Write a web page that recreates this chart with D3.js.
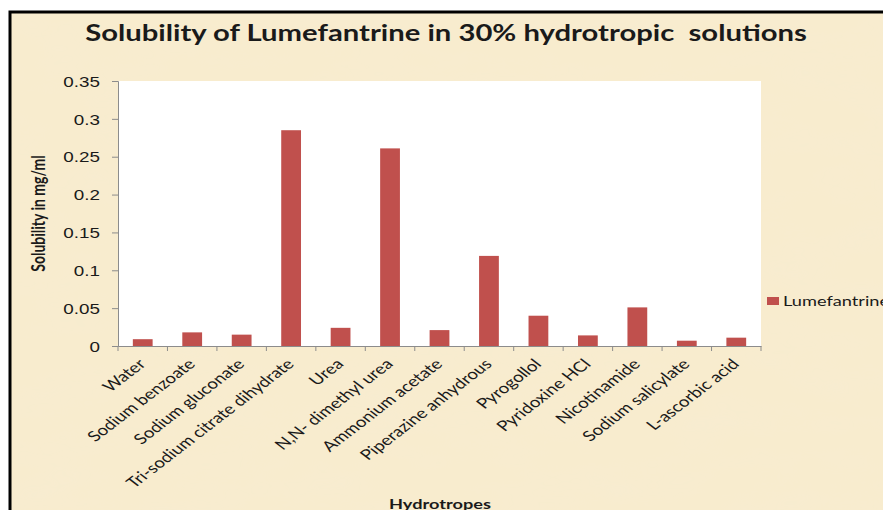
<!DOCTYPE html>
<html>
<head>
<meta charset="utf-8">
<script src="https://cdn.jsdelivr.net/npm/d3@7"></script>
<style>
  body { margin: 0; background: #fff; }
  svg { display: block; font-family: Lato, "Open Sans", sans-serif; }
  .axis path, .axis line { stroke: #8c8c8c; }
</style>
</head>
<body>
<div id="chart"></div>
<script>
const hydrotropes = ["Water", "Sodium benzoate", "Sodium gluconate", "Tri-sodium citrate dihydrate",
  "Urea", "N,N- dimethyl urea", "Ammonium acetate", "Piperazine anhydrous", "Pyrogollol",
  "Pyridoxine HCl", "Nicotinamide", "Sodium salicylate", "L-ascorbic acid"];
const lumefantrine = [0.009, 0.018, 0.015, 0.285, 0.024, 0.261, 0.021, 0.119, 0.040, 0.014, 0.051, 0.007, 0.011];
const yTicks = [0, 0.05, 0.1, 0.15, 0.2, 0.25, 0.3, 0.35];

const width = 883, height = 510;
const plot = { left: 118, right: 761, top: 81, bottom: 346 };
const barColor = "#c0504d";
const textColor = "#1a1a1a";
// the picture looks stretched sideways, so text gets the same stretch
const S = 1.3;

const svg = d3.select("#chart").append("svg")
  .attr("width", width)
  .attr("height", height);

// parchment background with a light texture
const defs = svg.append("defs");
const filt = defs.append("filter").attr("id", "paper")
  .attr("x", 0).attr("y", 0).attr("width", "100%").attr("height", "100%");
filt.append("feTurbulence").attr("type", "fractalNoise").attr("baseFrequency", "0.012 0.03")
  .attr("numOctaves", 3).attr("seed", 7).attr("result", "noise");
filt.append("feColorMatrix").attr("in", "noise").attr("type", "matrix")
  .attr("values", "0 0 0 0 0.93  0 0 0 0 0.84  0 0 0 0 0.64  0 0 0 -1.2 0.75");
filt.append("feComposite").attr("in2", "SourceGraphic").attr("operator", "in");

svg.append("rect").attr("x", 10).attr("y", 12).attr("width", width).attr("height", height)
  .attr("fill", "#f8ecce");
svg.append("rect").attr("x", 10).attr("y", 12).attr("width", width).attr("height", height)
  .attr("fill", "#f8ecce").attr("filter", "url(#paper)");
svg.append("rect").attr("x", 10).attr("y", 12).attr("width", width + 10).attr("height", height + 10)
  .attr("fill", "none").attr("stroke", "#000").attr("stroke-width", 3);

svg.append("text")
  .attr("transform", "translate(446,41) scale(" + S + ",1)")
  .attr("text-anchor", "middle")
  .attr("font-size", 22.5).attr("font-weight", "bold")
  .attr("fill", textColor)
  .style("white-space", "pre")
  .text("Solubility of Lumefantrine in 30% hydrotropic  solutions");

const x = d3.scaleBand().domain(hydrotropes).range([plot.left, plot.right]);
const y = d3.scaleLinear().domain([0, 0.35]).range([plot.bottom, plot.top]);

svg.append("rect")
  .attr("x", plot.left).attr("y", plot.top)
  .attr("width", plot.right - plot.left).attr("height", plot.bottom - plot.top)
  .attr("fill", "#fff");

svg.selectAll(".bar")
  .data(lumefantrine)
  .enter()
  .append("rect")
  .attr("class", "bar")
  .attr("fill", barColor)
  .attr("x", (d, i) => x(hydrotropes[i]) + x.bandwidth() * 0.3)
  .attr("width", x.bandwidth() * 0.4)
  .attr("y", d => y(d))
  .attr("height", d => y(0) - y(d));

const yAxis = svg.append("g")
  .attr("class", "axis")
  .attr("transform", "translate(" + plot.left + ",0)")
  .call(d3.axisLeft(y).tickValues(yTicks).tickSize(6).tickFormat(""));
yAxis.selectAll(".tick").append("text")
  .attr("transform", "translate(-18,0) scale(" + S + ",1)")
  .attr("text-anchor", "end")
  .attr("dy", "0.36em")
  .attr("font-size", 14.5)
  .attr("fill", textColor)
  .text(d => String(+d.toFixed(2)));

const xAxis = svg.append("g")
  .attr("class", "axis")
  .attr("transform", "translate(0," + plot.bottom + ")")
  .call(d3.axisBottom(x).tickSize(0).tickFormat(""));
// ticks sit on the band edges, Excel style
xAxis.selectAll(".edge")
  .data(d3.range(hydrotropes.length + 1))
  .enter()
  .append("line")
  .attr("class", "edge")
  .attr("x1", i => plot.left + i * x.step())
  .attr("x2", i => plot.left + i * x.step())
  .attr("y1", 0).attr("y2", 5);

svg.selectAll(".xlabel")
  .data(hydrotropes)
  .enter()
  .append("text")
  .attr("class", "xlabel")
  .attr("text-anchor", "end")
  .attr("font-size", 14.5)
  .attr("fill", textColor)
  .attr("transform", d => "translate(" + (x(d) + x.bandwidth() / 2 + 4) + "," + (plot.bottom + 19) +
    ") scale(" + S + ",1) rotate(-45)")
  .text(d => d);

svg.append("text")
  .attr("transform", "translate(45," + ((plot.top + plot.bottom) / 2) + ") scale(" + S + ",1) rotate(-90)")
  .attr("text-anchor", "middle")
  .attr("font-size", 14).attr("font-weight", "bold")
  .attr("fill", textColor)
  .text("Solubility in mg/ml");

svg.append("text")
  .attr("transform", "translate(440,509) scale(" + S + ",1)")
  .attr("text-anchor", "middle")
  .attr("font-size", 14).attr("font-weight", "bold")
  .attr("fill", textColor)
  .text("Hydrotropes");

const legend = svg.append("g").attr("transform", "translate(767,297)");
legend.append("rect").attr("width", 12).attr("height", 8).attr("fill", barColor);
legend.append("text")
  .attr("transform", "translate(16,8.5) scale(" + S + ",1)")
  .attr("font-size", 14).attr("fill", textColor)
  .text("Lumefantrine");
</script>
</body>
</html>
